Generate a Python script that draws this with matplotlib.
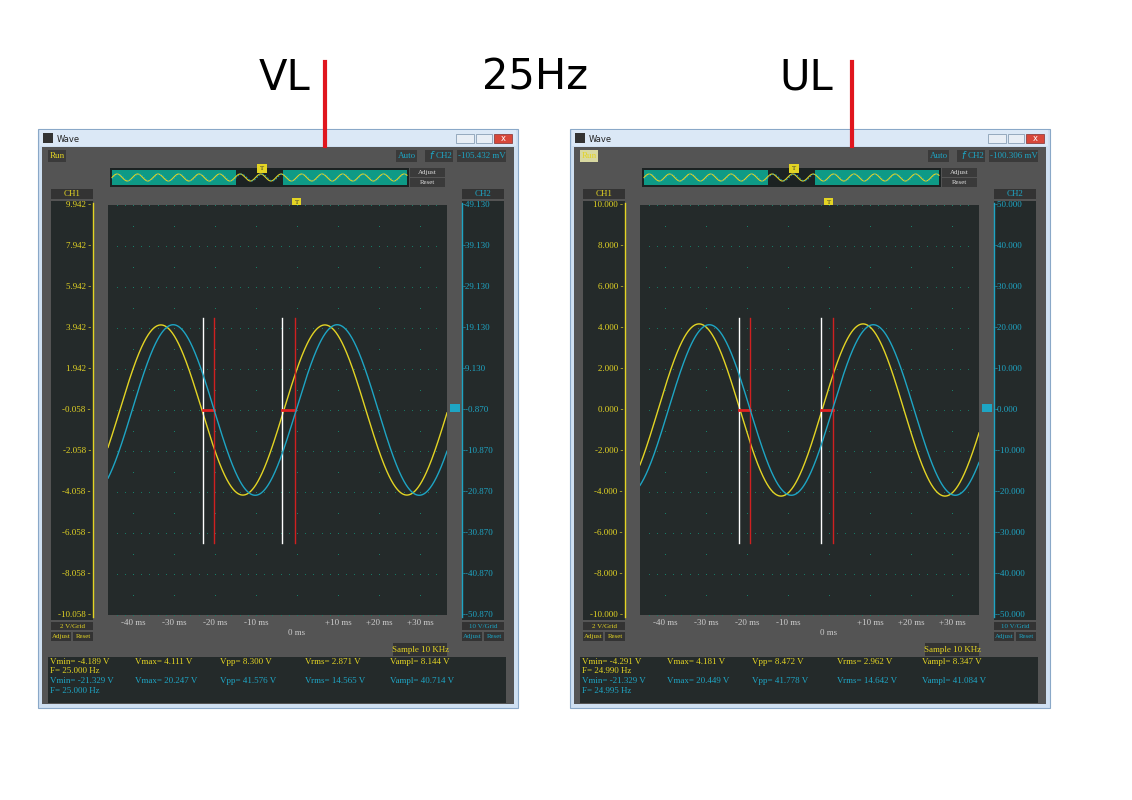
import numpy as np
import matplotlib
matplotlib.use("Agg")
import matplotlib.pyplot as plt
from matplotlib.patches import Rectangle

# ---- data ----
titles = ["VL", "25Hz", "UL"]
freq_hz = 25.0
panels = [
    dict(dx=0, ch1_ticks=["9.942", "7.942", "5.942", "3.942", "1.942", "-0.058", "-2.058", "-4.058", "-6.058", "-8.058", "-10.058"],
         ch2_ticks=["49.130", "39.130", "29.130", "19.130", "9.130", "-0.870", "-10.870", "-20.870", "-30.870", "-40.870", "-50.870"],
         ch1_lim=(-10.058, 9.942), ch2_lim=(-50.870, 49.130),
         y_amp=4.15, y_peak_ms=6.8, c_amp=20.8, c_peak_ms=9.8,
         white_ms=[-23.0, -3.6], red_ms=[-20.2, -0.4], mv="-105.432 mV", run_bg="#3a3a3a",
         stats1=["Vmin= -4.189 V", "Vmax= 4.111 V", "Vpp= 8.300 V", "Vrms= 2.871 V", "Vampl= 8.144 V"], f1="F= 25.000 Hz",
         stats2=["Vmin= -21.329 V", "Vmax= 20.247 V", "Vpp= 41.576 V", "Vrms= 14.565 V", "Vampl= 40.714 V"], f2="F= 25.000 Hz"),
    dict(dx=532, ch1_ticks=["10.000", "8.000", "6.000", "4.000", "2.000", "0.000", "-2.000", "-4.000", "-6.000", "-8.000", "-10.000"],
         ch2_ticks=["50.000", "40.000", "30.000", "20.000", "10.000", "0.000", "-10.000", "-20.000", "-30.000", "-40.000", "-50.000"],
         ch1_lim=(-10.0, 10.0), ch2_lim=(-50.0, 50.0),
         y_amp=4.2, y_peak_ms=8.3, c_amp=20.8, c_peak_ms=10.8,
         white_ms=[-22.0, -2.0], red_ms=[-19.2, 1.0], mv="-100.306 mV", run_bg="#d8d8a0",
         stats1=["Vmin= -4.291 V", "Vmax= 4.181 V", "Vpp= 8.472 V", "Vrms= 2.962 V", "Vampl= 8.347 V"], f1="F= 24.990 Hz",
         stats2=["Vmin= -21.329 V", "Vmax= 20.449 V", "Vpp= 41.778 V", "Vrms= 14.642 V", "Vampl= 41.084 V"], f2="F= 24.995 Hz"),
]
time_ticks = [-40, -30, -20, -10, 10, 20, 30]

YEL = "#e3d424"; CYA = "#1ea5c4"; GRAY = "#545454"; DARK = "#242a2a"; TEAL = "#0e9a86"; GRID = "#17806a"
SERIF = ["Liberation Serif", "DejaVu Serif"]

fig = plt.figure(figsize=(11.32, 8.0), dpi=100)
fig.patch.set_facecolor("white")
ax0 = fig.add_axes([0, 0, 1, 1])
ax0.set_xlim(0, 1132); ax0.set_ylim(800, 0); ax0.axis("off")

def rect(x0, y0, x1, y1, fc, ec="none", lw=0, z=1):
    ax0.add_patch(Rectangle((x0, y0), x1 - x0, y1 - y0, fc=fc, ec=ec, lw=lw, zorder=z))

def txt(x, y, s, c, fs=6.5, ha="left", **kw):
    ax0.text(x, y, s, color=c, fontsize=fs, ha=ha, va="center", family=SERIF, zorder=5, **kw)

# titles
ax0.text(285, 78, titles[0], fontsize=30, ha="center", va="center", family="DejaVu Sans")
ax0.text(535, 78, titles[1], fontsize=30, ha="center", va="center", family="DejaVu Sans")
ax0.text(806, 78, titles[2], fontsize=30, ha="center", va="center", family="DejaVu Sans")
ax0.plot([325, 325], [62, 146], color="#e0161e", lw=3, zorder=6)
ax0.plot([852, 852], [62, 146], color="#e0161e", lw=3, zorder=6)

for p in panels:
    d = p["dx"]
    # window frame
    rect(38 + d, 129, 518 + d, 708, "#cfe0f2", ec="#8aa8c8", lw=0.8)
    rect(40 + d, 130, 516 + d, 146, "#dbe8f6")
    rect(43 + d, 133, 53 + d, 143, "#333333")
    ax0.text(57 + d, 139, "Wave", fontsize=6, va="center", family="DejaVu Sans", color="#222")
    rect(456 + d, 134, 474 + d, 143, "#e8eef5", ec="#7890a8", lw=0.5)
    rect(476 + d, 134, 492 + d, 143, "#e8eef5", ec="#7890a8", lw=0.5)
    rect(494 + d, 134, 512 + d, 143, "#d8483a", ec="#803030", lw=0.5)
    ax0.text(503 + d, 138.5, "x", fontsize=6, color="white", ha="center", va="center")
    rect(42 + d, 147, 514 + d, 704, GRAY)
    # top controls
    rect(48 + d, 150, 66 + d, 162, p["run_bg"]); txt(57 + d, 156, "Run", YEL, ha="center")
    rect(396 + d, 150, 417 + d, 162, "#3a3a3a"); txt(406.5 + d, 156, "Auto", CYA, ha="center")
    rect(425 + d, 150, 453 + d, 162, "#3a3a3a")
    ax0.text(431 + d, 156, "f", color=CYA, fontsize=7, ha="center", va="center", style="italic", family="DejaVu Sans", zorder=5)
    txt(444 + d, 156, "CH2", CYA, ha="center")
    rect(457 + d, 150, 506 + d, 162, "#3a3a3a"); txt(481.5 + d, 156, p["mv"], CYA, ha="center")
    # overview bar
    rect(110 + d, 168, 409 + d, 187, "#1c2222")
    rect(112 + d, 170, 236 + d, 185, TEAL)
    rect(283 + d, 170, 407 + d, 185, TEAL)
    xs = np.linspace(112, 407, 800)
    ax0.plot(xs + d, 177.5 - 3.5 * np.sin(2 * np.pi * (xs - 112) / 20.5), color=YEL, lw=0.8, zorder=3)
    ax0.plot(xs + d, 177.5 - 3.5 * np.sin(2 * np.pi * (xs - 113.5) / 20.5), color=CYA, lw=0.6, zorder=3, ls=(0, (2, 2)))
    rect(257 + d, 164, 267 + d, 173, YEL, z=4); txt(262 + d, 168.5, "T", "#333", fs=5, ha="center")
    rect(410 + d, 168, 445 + d, 177, "#3a3a3a"); txt(427.5 + d, 172.5, "Adjust", "#ddd", fs=5, ha="center")
    rect(410 + d, 178, 445 + d, 187, "#3a3a3a"); txt(427.5 + d, 182.5, "Reset", "#ddd", fs=5, ha="center")
    # channel columns
    rect(51 + d, 189, 93 + d, 199, "#333333"); txt(72 + d, 194, "CH1", YEL, ha="center")
    rect(462 + d, 189, 504 + d, 199, "#333333"); txt(483 + d, 194, "CH2", CYA, ha="center")
    rect(51 + d, 201, 93 + d, 620, DARK)
    rect(462 + d, 201, 504 + d, 620, DARK)
    ax0.plot([93 + d, 93 + d], [203, 617], color=YEL, lw=1, zorder=3)
    ax0.plot([462 + d, 462 + d], [203, 617], color=CYA, lw=1, zorder=3)
    for i, (a, b) in enumerate(zip(p["ch1_ticks"], p["ch2_ticks"])):
        y = 205 + 41 * i
        txt(91 + d, y, a + " -", YEL, ha="right")
        txt(463 + d, y, "-" + b, CYA)
    rect(51 + d, 622, 93 + d, 630, "#333333"); txt(72 + d, 626, "2 V/Grid", YEL, fs=5, ha="center")
    rect(462 + d, 622, 504 + d, 630, "#333333"); txt(483 + d, 626, "10 V/Grid", CYA, fs=5, ha="center")
    rect(51 + d, 632, 71 + d, 641, "#333333"); txt(61 + d, 636.5, "Adjust", YEL, fs=5, ha="center")
    rect(73 + d, 632, 93 + d, 641, "#333333"); txt(83 + d, 636.5, "Reset", YEL, fs=5, ha="center")
    rect(462 + d, 632, 482 + d, 641, "#333333"); txt(472 + d, 636.5, "Adjust", CYA, fs=5, ha="center")
    rect(484 + d, 632, 504 + d, 641, "#333333"); txt(494 + d, 636.5, "Reset", CYA, fs=5, ha="center")
    rect(393 + d, 643, 447 + d, 656, "#333333"); txt(420 + d, 649.5, "Sample 10 KHz", YEL, ha="center")
    # stats
    rect(48 + d, 657, 506 + d, 703, DARK)
    cols = [50, 135, 220, 305, 390]
    for cx, s in zip(cols, p["stats1"]):
        txt(cx + d, 662, s, YEL)
    txt(50 + d, 671, p["f1"], YEL)
    for cx, s in zip(cols, p["stats2"]):
        txt(cx + d, 681, s, CYA)
    txt(50 + d, 691, p["f2"], CYA)
    # time labels
    for t in time_ticks:
        x = 297 + d + 4.1 * t
        txt(x, 623, (f"+{t} ms" if t > 0 else f"{t} ms"), "#cccccc", ha="center")
    txt(297 + d, 633, "0 ms", "#cccccc", ha="center")

    # plot area
    W = 1132.0; H = 800.0
    x0, x1, y0, y1 = 108 + d, 447 + d, 205, 615
    ax = fig.add_axes([x0 / W, 1 - y1 / H, (x1 - x0) / W, (y1 - y0) / H])
    ax.set_facecolor(DARK)
    tmin, tmax = (108 - 297) / 4.1, (447 - 297) / 4.1
    ax.set_xlim(tmin, tmax); ax.set_ylim(*p["ch1_lim"])
    for s in ax.spines.values(): s.set_visible(False)
    ax.set_xticks([]); ax.set_yticks([])
    lo = p["ch1_lim"][0]
    gx = np.arange(-40, 40, 10.0)
    gy = lo + np.arange(0, 11) * 2.0
    for g in gx:
        ax.plot([g] * 21, np.linspace(lo, lo + 20, 21), ls="none", marker="s", ms=0.7, mew=0, color=GRID)
    for g in gy:
        ax.plot(np.linspace(-44, 34, 40), [g] * 40, ls="none", marker="s", ms=0.6, mew=0, color=GRID)
    t = np.linspace(tmin, tmax, 2000)
    ax.plot(t, p["y_amp"] * np.cos(2 * np.pi * freq_hz * (t - p["y_peak_ms"]) / 1000) + lo + 10, color=YEL, lw=1)
    axc = ax.twinx(); axc.set_ylim(*p["ch2_lim"]); axc.axis("off")
    axc.plot(t, p["c_amp"] * np.cos(2 * np.pi * freq_hz * (t - p["c_peak_ms"]) / 1000) + p["ch2_lim"][0] + 50, color=CYA, lw=1)
    for w, r in zip(p["white_ms"], p["red_ms"]):
        ax.plot([w, w], [lo + 10 - 6.5, lo + 10 + 4.5], color="white", lw=1)
        ax.plot([r, r], [lo + 10 - 6.5, lo + 10 + 4.5], color="#d02020", lw=1)
        ax.plot([w, r], [lo + 10, lo + 10], color="#e02020", lw=2)
    rect(292 + d, 198, 301 + d, 207, YEL, z=4); txt(296.5 + d, 202.5, "T", "#333", fs=5, ha="center")
    rect(450 + d, 404, 460 + d, 412, CYA, z=4)

fig.savefig("out.png", dpi=100)
